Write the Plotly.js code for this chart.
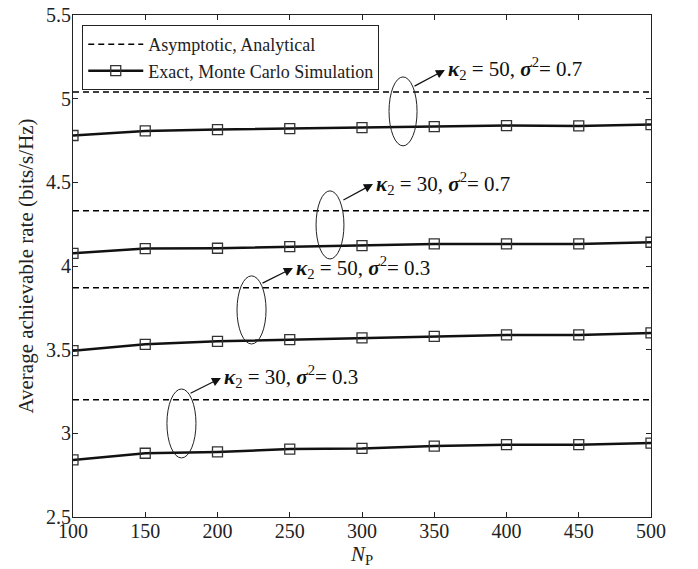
<!DOCTYPE html>
<html>
<head>
<meta charset="utf-8">
<script src="https://cdn.plot.ly/plotly-3.0.1.min.js"></script>
<style>html,body{margin:0;padding:0;background:#fff;}#chart{width:698px;height:569px;}</style>
</head>
<body>
<div id="chart"></div>
<script>
const NP = [100, 150, 200, 250, 300, 350, 400, 450, 500];
const labels = ["κ2=50, σ2=0.7", "κ2=30, σ2=0.7", "κ2=50, σ2=0.3", "κ2=30, σ2=0.3"];
const asymptotic = [5.04, 4.33, 3.87, 3.20];
const exact_k50_s07 = [4.78, 4.807, 4.815, 4.821, 4.827, 4.833, 4.839, 4.837, 4.845];
const exact_k30_s07 = [4.076, 4.104, 4.106, 4.116, 4.122, 4.132, 4.132, 4.132, 4.142];
const exact_k50_s03 = [3.494, 3.532, 3.550, 3.560, 3.570, 3.580, 3.588, 3.588, 3.600];
const exact_k30_s03 = [2.841, 2.881, 2.889, 2.906, 2.910, 2.924, 2.932, 2.932, 2.942];
const exactAll = [exact_k50_s07, exact_k30_s07, exact_k50_s03, exact_k30_s03];

const FONT = '"Liberation Serif", "Times New Roman", serif';
const traces = [];
asymptotic.forEach((v, i) => {
  traces.push({
    x: NP, y: NP.map(() => v), mode: 'lines', type: 'scatter',
    name: 'Asymptotic, Analytical', legendgroup: 'a', showlegend: i === 0,
    line: {color: '#000', width: 1.5, dash: '6px,4px'}, hoverinfo: 'skip'
  });
});
exactAll.forEach((ys, i) => {
  traces.push({
    x: NP, y: ys, mode: 'lines+markers', type: 'scatter',
    name: 'Exact, Monte Carlo Simulation', legendgroup: 'e', showlegend: i === 0,
    line: {color: '#111', width: 2.5},
    marker: {symbol: 'square-open', size: 10, color: '#333', line: {width: 1.3, color: '#333'}}
  });
});

// annotation geometry (data coords)
const ellipses = [
  [318.7, 4.718, 338.1, 5.130],
  [268.2, 4.042, 287.5, 4.449],
  [213.5, 3.534, 233.6, 3.941],
  [165.0, 2.853, 185.1, 3.265]
];
const arrows = [
  [335.3, 5.070, 357.4, 5.172, '50', '0.7'],
  [286.1, 4.389, 307.6, 4.490, '30', '0.7'],
  [230.1, 3.893, 252.2, 3.988, '50', '0.3'],
  [180.3, 3.235, 202.4, 3.331, '30', '0.3']
];
const shapes = ellipses.map(e => ({
  type: 'circle', xref: 'x', yref: 'y', x0: e[0], y0: e[1], x1: e[2], y1: e[3],
  line: {color: '#222', width: 1}
}));
const annotations = [];
arrows.forEach(a => {
  annotations.push({
    x: a[2], y: a[3], ax: a[0], ay: a[1], xref: 'x', yref: 'y', axref: 'x', ayref: 'y',
    text: '', showarrow: true, arrowhead: 2, arrowsize: 1.5, arrowwidth: 1.2, arrowcolor: '#111'
  });
  annotations.push({
    x: a[2], y: a[3], xref: 'x', yref: 'y', xanchor: 'left', yanchor: 'middle', xshift: 1, yshift: 1,
    showarrow: false,
    text: '<b><i>κ</i></b><sub>2</sub> = ' + a[4] + ', <b><i>σ</i></b><sup>2</sup>= ' + a[5],
    font: {family: FONT, size: 21, color: '#111'}
  });
});

const axisCommon = {
  showgrid: false, zeroline: false, showline: true, mirror: 'ticks',
  linecolor: '#222', linewidth: 1, ticks: 'inside', ticklen: 5, tickcolor: '#222',
  tickfont: {family: FONT, size: 20, color: '#222'}
};
const layout = {
  width: 698, height: 569,
  margin: {l: 73, r: 47, t: 15, b: 52},
  paper_bgcolor: '#fff', plot_bgcolor: '#fff',
  font: {family: FONT, color: '#222'},
  xaxis: Object.assign({}, axisCommon, {
    range: [100, 500], tickvals: NP, ticklabelstandoff: -4,
    title: {text: '<i>N</i><sub>P</sub>', font: {family: FONT, size: 21, color: '#222'}, standoff: 0}
  }),
  yaxis: Object.assign({}, axisCommon, {
    range: [2.5, 5.5], dtick: 0.5, ticklabelstandoff: -3,
    title: {text: 'Average achievable rate (bits/s/Hz)', font: {family: FONT, size: 21, color: '#222'}, standoff: 6}
  }),
  legend: {
    x: 0.016, y: 0.98, xanchor: 'left', yanchor: 'top', itemwidth: 55,
    bgcolor: '#fff', bordercolor: '#222', borderwidth: 1,
    font: {family: FONT, size: 18, color: '#222'}, tracegroupgap: 0
  },
  shapes: shapes, annotations: annotations
};
Plotly.newPlot('chart', traces, layout, {displayModeBar: false, staticPlot: true});
</script>
</body>
</html>
